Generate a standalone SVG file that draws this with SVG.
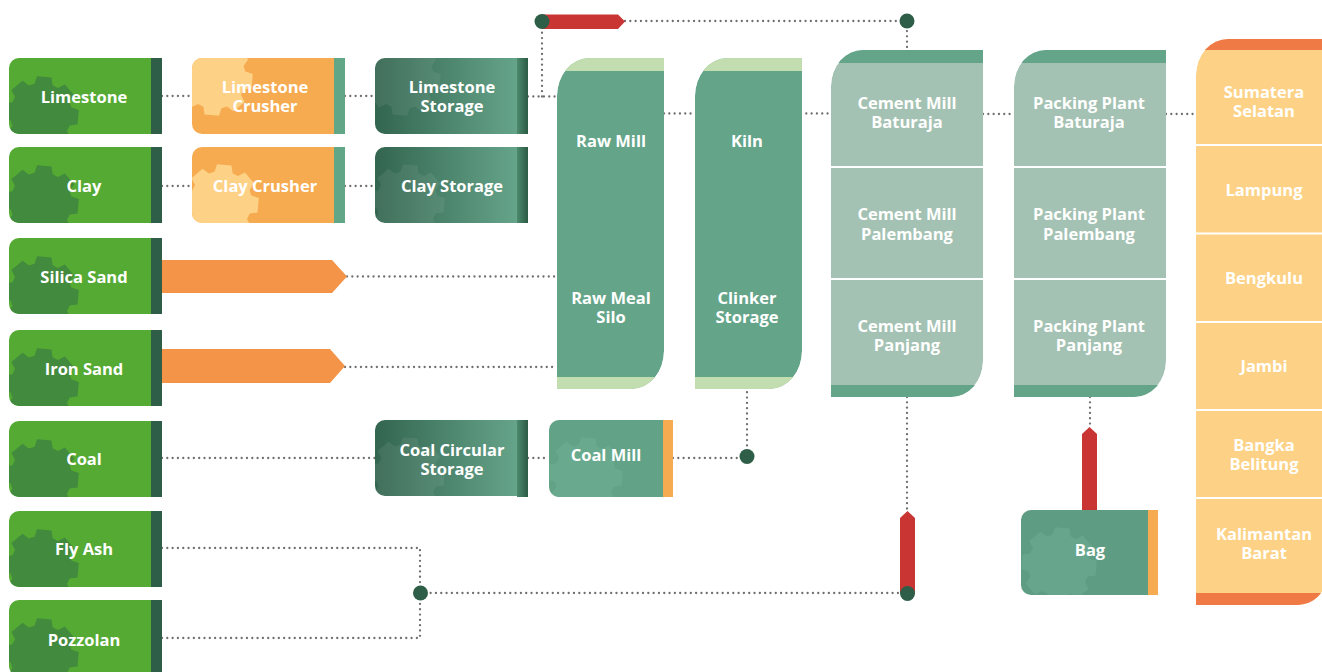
<svg xmlns="http://www.w3.org/2000/svg" xmlns:xlink="http://www.w3.org/1999/xlink" width="1322" height="672" viewBox="0 0 1322 672">
<style>
.lbl{font-family:"Open Sans","Liberation Sans",sans-serif;font-weight:700;font-size:16.5px;fill:#fff;text-anchor:middle}
.dot{fill:none;stroke:#6e6e6e;stroke-width:2.3;stroke-linecap:round;stroke-dasharray:0.01 5.3}
.g-fill{fill:#54AA33}.g-gear{fill:#428A3D}.g-stripe{fill:#2E5E47}
.o-fill{fill:#F6AB50}.o-gear{fill:#FDD186}.t-stripe{fill:#62A688}
.s-fill{fill:url(#storGrad)}.s-gear{fill:#ffffff;opacity:0.07}.s-stripe{fill:url(#stripeGrad)}
.col-main{fill:#64A58A}.col-band{fill:#C2DDAF}
.cm-main{fill:#A4C2B3}.cm-band{fill:#64A58A}
.oc-main{fill:#FDD286}.oc-band{fill:#F07A45}
.sep{stroke:#fff;stroke-width:2}
.knot{fill:#2F5E48}
.red{fill:#C93533}
.arrow{fill:#F39449}
</style>
<defs>
<linearGradient id="storGrad" x1="0" y1="0" x2="1" y2="0">
<stop offset="0" stop-color="#33654F"/><stop offset="1" stop-color="#66A58B"/>
</linearGradient>
<linearGradient id="stripeGrad" x1="0" y1="0" x2="1" y2="0">
<stop offset="0" stop-color="#4C8A6D"/><stop offset="1" stop-color="#2C5A45"/>
</linearGradient>
<path id="gbox" d="M10,0H144V76H10A10,10 0 0 1 0,66V10A10,10 0 0 1 10,0Z"/>
<path id="cbox" d="M10,0H116V77H10A10,10 0 0 1 0,67V10A10,10 0 0 1 10,0Z"/>
<path id="bbox" d="M10,0H129V85H10A10,10 0 0 1 0,75V10A10,10 0 0 1 10,0Z"/>
<path id="gear" d="M37.79,-3.97L36.53,10.47L28.74,11.61L26,16.88L29.53,23.91L18.42,33.23L12.11,28.54L6.45,30.32L3.97,37.79L-10.47,36.53L-11.61,28.74L-16.88,26L-23.91,29.53L-33.23,18.42L-28.54,12.11L-30.32,6.45L-37.79,3.97L-36.53,-10.47L-28.74,-11.61L-26,-16.88L-29.53,-23.91L-18.42,-33.23L-12.11,-28.54L-6.45,-30.32L-3.97,-37.79L10.47,-36.53L11.61,-28.74L16.88,-26L23.91,-29.53L33.23,-18.42L28.54,-12.11L30.32,-6.45Z"/>
<path id="colA" d="M0,38A32,38 0 0 1 32,0H107V293A32,38 0 0 1 75,331H0Z"/>
<path id="colB" d="M0,36A32,36 0 0 1 32,0H152V311A32,36 0 0 1 120,347H0Z"/>
<path id="colC" d="M0,36A32,36 0 0 1 32,0H130V538A28,28 0 0 1 102,566H0Z"/>
<clipPath id="clipG" clipPathUnits="userSpaceOnUse"><use xlink:href="#gbox"/></clipPath>
<clipPath id="clipC" clipPathUnits="userSpaceOnUse"><use xlink:href="#cbox"/></clipPath>
<clipPath id="clipB" clipPathUnits="userSpaceOnUse"><use xlink:href="#bbox"/></clipPath>
<clipPath id="clipA" clipPathUnits="userSpaceOnUse"><use xlink:href="#colA"/></clipPath>
<clipPath id="clipCB" clipPathUnits="userSpaceOnUse"><use xlink:href="#colB"/></clipPath>
<clipPath id="clipCC" clipPathUnits="userSpaceOnUse"><use xlink:href="#colC"/></clipPath>
</defs>

<g id="connectors">
<polyline class="dot" points="162,96 192,96"/>
<polyline class="dot" points="345,96 375,96"/>
<polyline class="dot" points="528,96.5 557,96.5"/>
<polyline class="dot" points="542,96.5 542,21"/>
<polyline class="dot" points="625,21 907,21 907,50"/>
<polyline class="dot" points="162,186 192,186"/>
<polyline class="dot" points="345,186 375,186"/>
<polyline class="dot" points="347,276.5 557,276.5"/>
<polyline class="dot" points="345,367 557,367"/>
<polyline class="dot" points="664,113.5 695,113.5"/>
<polyline class="dot" points="801,113.5 831,113.5"/>
<polyline class="dot" points="983,114 1014,114"/>
<polyline class="dot" points="1166,114 1196,114"/>
<polyline class="dot" points="162,458 375,458"/>
<polyline class="dot" points="528,458 549,458"/>
<polyline class="dot" points="673,458 747,458"/>
<polyline class="dot" points="747,456 747,389"/>
<polyline class="dot" points="907,397 907,512"/>
<polyline class="dot" points="1090,397 1090,428"/>
<polyline class="dot" points="162,548 420,548 420,593"/>
<polyline class="dot" points="162,638 420,638 420,593"/>
<polyline class="dot" points="420,593 907,593"/>
<polygon class="arrow" points="162,260 332,260 347,276.5 332,293 162,293"/>
<polygon class="arrow" points="162,349 330,349 345,366 330,383 162,383"/>
<polygon class="red" points="542,14.5 618,14.5 625,21.5 618,29 542,29"/>
<polygon class="red" points="900,518 907.5,511 915,518 915,594 900,594"/>
<polygon class="red" points="1082,434 1089.5,427 1097,434 1097,511 1082,511"/>
<circle class="knot" cx="542" cy="21.5" r="7.5"/>
<circle class="knot" cx="907" cy="21" r="7.5"/>
<circle class="knot" cx="747" cy="456.5" r="7.5"/>
<circle class="knot" cx="907.5" cy="593.5" r="7.5"/>
<circle class="knot" cx="420.5" cy="593" r="7.5"/>
</g>

<g id="node-limestone" transform="translate(9,58)">
<use xlink:href="#gbox" class="g-fill"/>
<g clip-path="url(#clipG)"><use xlink:href="#gear" class="g-gear" transform="translate(32,56)"/></g>
<rect x="142" y="0" width="11" height="76" class="g-stripe"/>
<text class="lbl" x="75" y="44.5">Limestone</text>
</g>
<g id="node-clay" transform="translate(9,147)">
<use xlink:href="#gbox" class="g-fill"/>
<g clip-path="url(#clipG)"><use xlink:href="#gear" class="g-gear" transform="translate(32,56)"/></g>
<rect x="142" y="0" width="11" height="76" class="g-stripe"/>
<text class="lbl" x="75" y="45">Clay</text>
</g>
<g id="node-silica-sand" transform="translate(9,238)">
<use xlink:href="#gbox" class="g-fill"/>
<g clip-path="url(#clipG)"><use xlink:href="#gear" class="g-gear" transform="translate(32,56)"/></g>
<rect x="142" y="0" width="11" height="76" class="g-stripe"/>
<text class="lbl" x="75" y="45">Silica Sand</text>
</g>
<g id="node-iron-sand" transform="translate(9,330)">
<use xlink:href="#gbox" class="g-fill"/>
<g clip-path="url(#clipG)"><use xlink:href="#gear" class="g-gear" transform="translate(32,56)"/></g>
<rect x="142" y="0" width="11" height="76" class="g-stripe"/>
<text class="lbl" x="75" y="44.5">Iron Sand</text>
</g>
<g id="node-coal" transform="translate(9,421)">
<use xlink:href="#gbox" class="g-fill"/>
<g clip-path="url(#clipG)"><use xlink:href="#gear" class="g-gear" transform="translate(32,56)"/></g>
<rect x="142" y="0" width="11" height="76" class="g-stripe"/>
<text class="lbl" x="75" y="43.5">Coal</text>
</g>
<g id="node-fly-ash" transform="translate(9,511)">
<use xlink:href="#gbox" class="g-fill"/>
<g clip-path="url(#clipG)"><use xlink:href="#gear" class="g-gear" transform="translate(32,56)"/></g>
<rect x="142" y="0" width="11" height="76" class="g-stripe"/>
<text class="lbl" x="75" y="44">Fly Ash</text>
</g>
<g id="node-pozzolan" transform="translate(9,600)">
<use xlink:href="#gbox" class="g-fill"/>
<g clip-path="url(#clipG)"><use xlink:href="#gear" class="g-gear" transform="translate(32,56)"/></g>
<rect x="142" y="0" width="11" height="76" class="g-stripe"/>
<text class="lbl" x="75" y="46">Pozzolan</text>
</g>

<g id="node-limestone-crusher" transform="translate(192,58)">
<use xlink:href="#gbox" class="o-fill"/>
<g clip-path="url(#clipG)"><use xlink:href="#gear" class="o-gear" transform="translate(23,20)"/></g>
<rect x="142" y="0" width="11" height="76" class="t-stripe"/>
<text class="lbl" x="73" y="34.5"><tspan x="73">Limestone</tspan><tspan x="73" dy="19">Crusher</tspan></text>
</g>
<g id="node-clay-crusher" transform="translate(192,147)">
<use xlink:href="#gbox" class="o-fill"/>
<g clip-path="url(#clipG)"><use xlink:href="#gear" class="o-gear" transform="translate(29,55)"/></g>
<rect x="142" y="0" width="11" height="76" class="t-stripe"/>
<text class="lbl" x="73" y="45">Clay Crusher</text>
</g>

<g id="node-limestone-storage" transform="translate(375,58)">
<use xlink:href="#gbox" class="s-fill"/>
<g clip-path="url(#clipG)"><use xlink:href="#gear" class="s-gear" transform="translate(28,20)"/></g>
<rect x="142" y="0" width="11" height="76" class="s-stripe"/>
<text class="lbl" x="77" y="34.5"><tspan x="77">Limestone</tspan><tspan x="77" dy="19">Storage</tspan></text>
</g>
<g id="node-clay-storage" transform="translate(375,147)">
<use xlink:href="#gbox" class="s-fill"/>
<g clip-path="url(#clipG)"><use xlink:href="#gear" class="s-gear" transform="translate(32,55)"/></g>
<rect x="142" y="0" width="11" height="76" class="s-stripe"/>
<text class="lbl" x="77" y="45">Clay Storage</text>
</g>
<g id="node-coal-circular-storage" transform="translate(375,420)">
<use xlink:href="#gbox" class="s-fill"/>
<g clip-path="url(#clipG)"><use xlink:href="#gear" class="s-gear" transform="translate(32,55)"/></g>
<rect x="142" y="0" width="11" height="77" class="s-stripe"/>
<text class="lbl" x="77" y="35.5"><tspan x="77">Coal Circular</tspan><tspan x="77" dy="19">Storage</tspan></text>
</g>
<g id="node-coal-mill" transform="translate(549,420)">
<use xlink:href="#cbox" fill="#62A388"/>
<g clip-path="url(#clipC)"><use xlink:href="#gear" fill="#69AA8E" transform="translate(36,55)"/></g>
<rect x="114" y="0" width="10" height="77" fill="#F6AB50"/>
<text class="lbl" x="57" y="40.5">Coal Mill</text>
</g>

<g id="node-raw-mill" transform="translate(557,58)">
<g clip-path="url(#clipA)">
<use xlink:href="#colA" class="col-main"/>
<rect x="0" y="0" width="107" height="13" class="col-band"/>
<rect x="0" y="319" width="107" height="12" class="col-band"/>
</g>
<text class="lbl" x="54" y="89">Raw Mill</text>
<text class="lbl" x="54" y="246"><tspan x="54">Raw Meal</tspan><tspan x="54" dy="19">Silo</tspan></text>
</g>
<g id="node-kiln" transform="translate(695,58)">
<g clip-path="url(#clipA)">
<use xlink:href="#colA" class="col-main"/>
<rect x="0" y="0" width="107" height="13" class="col-band"/>
<rect x="0" y="319" width="107" height="12" class="col-band"/>
</g>
<text class="lbl" x="52" y="89">Kiln</text>
<text class="lbl" x="52" y="246"><tspan x="52">Clinker</tspan><tspan x="52" dy="19">Storage</tspan></text>
</g>

<g id="node-cement-mill" transform="translate(831,50)">
<g clip-path="url(#clipCB)">
<use xlink:href="#colB" class="cm-main"/>
<rect x="0" y="0" width="152" height="13" class="cm-band"/>
<rect x="0" y="335" width="152" height="12" class="cm-band"/>
</g>
<line class="sep" x1="0" y1="117" x2="152" y2="117"/>
<line class="sep" x1="0" y1="229" x2="152" y2="229"/>
<text class="lbl" x="76" y="59"><tspan x="76">Cement Mill</tspan><tspan x="76" dy="19">Baturaja</tspan></text>
<text class="lbl" x="76" y="170"><tspan x="76">Cement Mill</tspan><tspan x="76" dy="20">Palembang</tspan></text>
<text class="lbl" x="76" y="282"><tspan x="76">Cement Mill</tspan><tspan x="76" dy="19">Panjang</tspan></text>
</g>
<g id="node-packing-plant" transform="translate(1014,50)">
<g clip-path="url(#clipCB)">
<use xlink:href="#colB" class="cm-main"/>
<rect x="0" y="0" width="152" height="13" class="cm-band"/>
<rect x="0" y="335" width="152" height="12" class="cm-band"/>
</g>
<line class="sep" x1="0" y1="117" x2="152" y2="117"/>
<line class="sep" x1="0" y1="229" x2="152" y2="229"/>
<text class="lbl" x="75" y="59"><tspan x="75">Packing Plant</tspan><tspan x="75" dy="19">Baturaja</tspan></text>
<text class="lbl" x="75" y="170"><tspan x="75">Packing Plant</tspan><tspan x="75" dy="20">Palembang</tspan></text>
<text class="lbl" x="75" y="282"><tspan x="75">Packing Plant</tspan><tspan x="75" dy="19">Panjang</tspan></text>
</g>

<g id="node-bag" transform="translate(1021,510)">
<use xlink:href="#bbox" fill="#5F9C84"/>
<g clip-path="url(#clipB)"><use xlink:href="#gear" fill="#67A68C" transform="translate(38,55)"/></g>
<rect x="127" y="0" width="10" height="85" fill="#F6AB50"/>
<text class="lbl" x="69" y="46">Bag</text>
</g>

<g id="node-regions" transform="translate(1196,39)">
<g clip-path="url(#clipCC)">
<use xlink:href="#colC" class="oc-main"/>
<rect x="0" y="0" width="130" height="11" class="oc-band"/>
<rect x="0" y="554" width="130" height="12" class="oc-band"/>
</g>
<line class="sep" x1="0" y1="106" x2="130" y2="106"/>
<line class="sep" x1="0" y1="194.5" x2="130" y2="194.5"/>
<line class="sep" x1="0" y1="283" x2="130" y2="283"/>
<line class="sep" x1="0" y1="371" x2="130" y2="371"/>
<line class="sep" x1="0" y1="459" x2="130" y2="459"/>
<text class="lbl" x="68" y="59"><tspan x="68">Sumatera</tspan><tspan x="68" dy="19">Selatan</tspan></text>
<text class="lbl" x="68" y="157">Lampung</text>
<text class="lbl" x="68" y="245">Bengkulu</text>
<text class="lbl" x="68" y="333">Jambi</text>
<text class="lbl" x="68" y="412"><tspan x="68">Bangka</tspan><tspan x="68" dy="19">Belitung</tspan></text>
<text class="lbl" x="68" y="501"><tspan x="68">Kalimantan</tspan><tspan x="68" dy="19">Barat</tspan></text>
</g>
</svg>
